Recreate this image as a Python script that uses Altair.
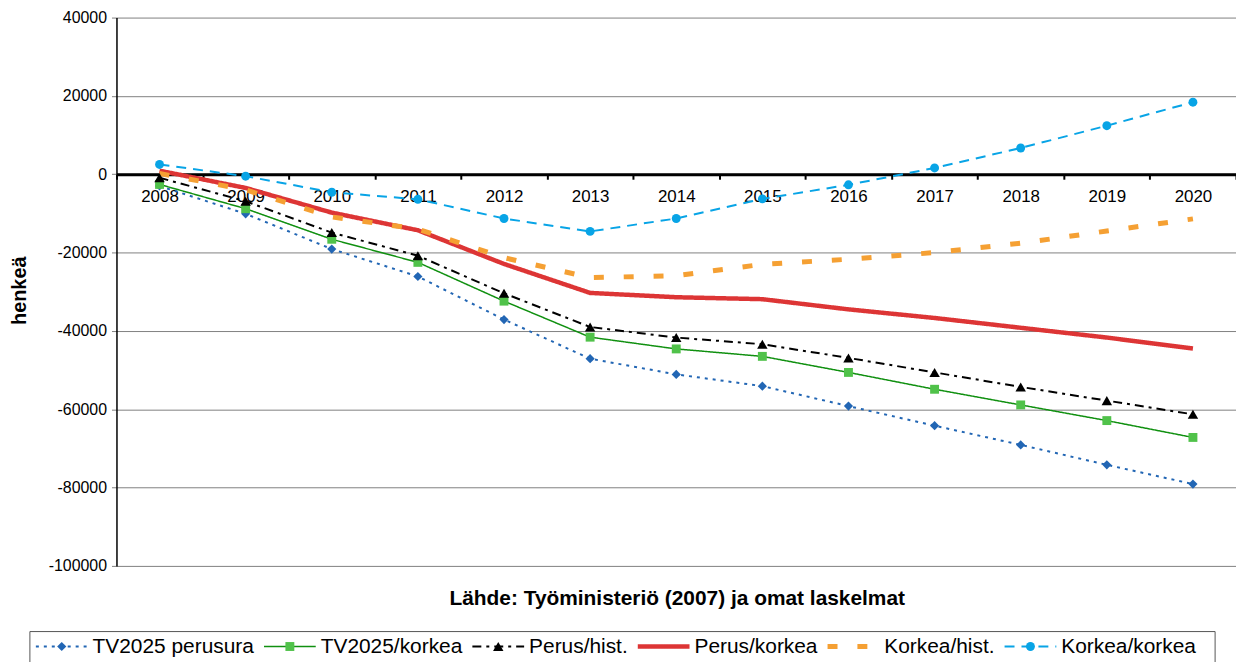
import altair as alt
import pandas as pd

years = list(range(2008, 2021))
series_names = ["TV2025 perusura", "TV2025/korkea", "Perus/hist.",
                "Perus/korkea", "Korkea/hist.", "Korkea/korkea"]

tv_perusura = [-3000, -10100, -19100, -26100, -37100, -47100, -51100,
               -54100, -59200, -64200, -69100, -74200, -79100]
tv_korkea = [-2600, -8800, -16600, -22500, -32400, -41600, -44600,
             -46500, -50600, -54900, -58900, -62900, -67200]
perus_hist = [-900, -6900, -14900, -20800, -30400, -39000, -41700,
              -43400, -46900, -50600, -54300, -57800, -61300]
perus_korkea = [900, -3500, -9800, -14300, -22900, -30300, -31400,
                -31900, -34500, -36700, -39200, -41700, -44500]
korkea_hist = [200, -4000, -10900, -14000, -21300, -26400, -25900,
               -23000, -21700, -20000, -17600, -14500, -11400]
korkea_korkea = [2500, -500, -4600, -6400, -11300, -14600, -11300,
                 -6300, -2700, 1600, 6700, 12400, 18400]

y_ticks = [-100000, -80000, -60000, -40000, -20000, 0, 20000, 40000]
y_title = "henkeä"
source_title = "Lähde: Työministeriö (2007) ja omat laskelmat"

all_values = [tv_perusura, tv_korkea, perus_hist, perus_korkea, korkea_hist, korkea_korkea]
rows = []
for name, vals in zip(series_names, all_values):
    for yr, v in zip(years, vals):
        rows.append({"year": yr, "series": name, "value": v})
df = pd.DataFrame(rows)

# styles
line_colors = ["#2266B4", "#109010", "#000000", "#DD3535", "#F5A033", "#08A4E6"]
marker_colors = ["#2266B4", "#50C24A", "#000000", "#DD3535", "#F5A033", "#08A4E6"]
dashes = [[3, 5], [1, 0], [9, 5, 3, 5], [1, 0], [10, 20], [10, 7]]
widths = [2, 1.5, 2, 4.5, 5, 2]
shapes = ["diamond", "square", "triangle-up", "circle", "circle", "circle"]
marker_sizes = [85, 80, 110, 80, 80, 80]
marker_series = ["TV2025 perusura", "TV2025/korkea", "Perus/hist.", "Korkea/korkea"]

FONT = "Liberation Sans"
W, H = 1125, 551
zero_offset = -(H - H * 40000 / 140000)

stroke_enc = alt.Stroke("series:N", scale=alt.Scale(domain=series_names, range=line_colors), legend=None)
dash_enc = alt.StrokeDash("series:N", scale=alt.Scale(domain=series_names, range=dashes), legend=None)
fill_enc = alt.Fill("series:N", scale=alt.Scale(domain=series_names, range=marker_colors), legend=None)
shape_enc = alt.Shape("series:N", scale=alt.Scale(domain=series_names, range=shapes), legend=None)

x_enc = alt.X(
    "year:O",
    bandPosition=0.5,
    scale=alt.Scale(type="band", paddingInner=0, paddingOuter=0),
    axis=alt.Axis(orient="bottom", offset=zero_offset, title=None, labelAngle=0,
                  labelFontSize=17, labelFont=FONT, labelColor="black", labelPadding=9,
                  tickBand="extent", tickSize=5, tickWidth=2, tickColor="black",
                  domainColor="black", domainWidth=3, grid=False, zindex=0),
)
y_enc = alt.Y(
    "value:Q",
    scale=alt.Scale(domain=[-100000, 40000], nice=False, zero=False),
    axis=alt.Axis(values=y_ticks, labelExpr="'' + datum.value", grid=True,
                  gridColor="#808080", gridWidth=1,
                  domainColor="black", domainWidth=1.5, tickColor="#808080", tickSize=5,
                  labelFontSize=16, labelFont=FONT, labelColor="black", labelPadding=5,
                  title=y_title, titleFont=FONT, titleFontSize=20, titleFontWeight="bold",
                  titleColor="black", titleX=-97, titleY=274, titleAngle=270,
                  titleBaseline="middle", zindex=0),
)

main_layers = []
for name, w in zip(series_names, widths):
    main_layers.append(
        alt.Chart(df).transform_filter(alt.datum.series == name)
        .mark_line(strokeWidth=w)
        .encode(x=x_enc, y=y_enc, stroke=stroke_enc, strokeDash=dash_enc, order="year:O")
    )
for name, sz in zip(series_names, marker_sizes):
    if name in marker_series:
        main_layers.append(
            alt.Chart(df).transform_filter(alt.datum.series == name)
            .mark_point(filled=True, opacity=1, size=sz)
            .encode(x=x_enc, y=y_enc, fill=fill_enc, shape=shape_enc)
        )
main = alt.layer(*main_layers)

# ---- manual legend (below the plot) ----
AR = {"T": 611, "V": 667, " ": 278, "p": 556, "e": 556, "r": 333, "u": 556, "s": 500,
      "a": 556, "/": 278, "k": 500, "o": 556, "P": 667, "h": 556, "i": 222, "t": 278,
      ".": 278, "K": 667}
LEG_FS = 21
def text_w(s, size):
    return sum(AR.get(c, 556) for c in s) / 1000 * size

SYM, GAP_T, GAP_N = 52, 5, 10
pos = -81
leg_rows = []
for name in series_names:
    x1 = pos
    x2 = pos + SYM
    xt = x2 + GAP_T
    leg_rows.append({"series": name, "x1": x1, "x2": x2, "xm": (x1 + x2) / 2, "xt": xt})
    pos = xt + text_w(name, LEG_FS) + GAP_N
leg = pd.DataFrame(leg_rows)
LY = 632
lx_scale = alt.Scale(domain=[0, W], range=[0, W], nice=False, zero=False)

leg_layers = [alt.Chart(pd.DataFrame({"a": [0]})).mark_rect(
    fillOpacity=0, stroke="#555555", strokeWidth=1).encode(
    x=alt.value(-87), x2=alt.value(1104), y=alt.value(617), y2=alt.value(690))]
for name, w in zip(series_names, widths):
    leg_layers.append(
        alt.Chart(leg).transform_filter(alt.datum.series == name)
        .mark_rule(strokeWidth=w)
        .encode(x=alt.X("x1:Q", scale=lx_scale, axis=None), x2="x2:Q", y=alt.value(LY),
                stroke=stroke_enc, strokeDash=dash_enc)
    )
for name, sz in zip(series_names, marker_sizes):
    if name in marker_series:
        leg_layers.append(
            alt.Chart(leg).transform_filter(alt.datum.series == name)
            .mark_point(filled=True, opacity=1, size=sz)
            .encode(x=alt.X("xm:Q", scale=lx_scale, axis=None), y=alt.value(LY),
                    fill=fill_enc, shape=shape_enc)
        )
leg_layers.append(alt.Chart(leg).mark_text(align="left", baseline="middle", fontSize=LEG_FS,
                                           font=FONT, color="black").encode(
    x=alt.X("xt:Q", scale=lx_scale, axis=None), y=alt.value(LY + 1), text="series:N"))
leg_layers.append(alt.Chart(pd.DataFrame({"t": [source_title]})).mark_text(
    align="center", baseline="middle", fontSize=21, fontWeight="bold", font=FONT,
    color="black").encode(text="t:N", x=alt.value(W / 2 + 1), y=alt.value(584)))

legend_layer = alt.layer(*leg_layers)

chart = alt.layer(main, legend_layer).resolve_scale(x="independent").properties(
    width=W, height=H,
    autosize=alt.AutoSizeParams(type="none"),
    padding={"left": 109, "top": 8, "right": 0, "bottom": 106},
).configure_view(stroke=None)

chart.save("out.html", embed_options={"renderer": "svg", "actions": False})
